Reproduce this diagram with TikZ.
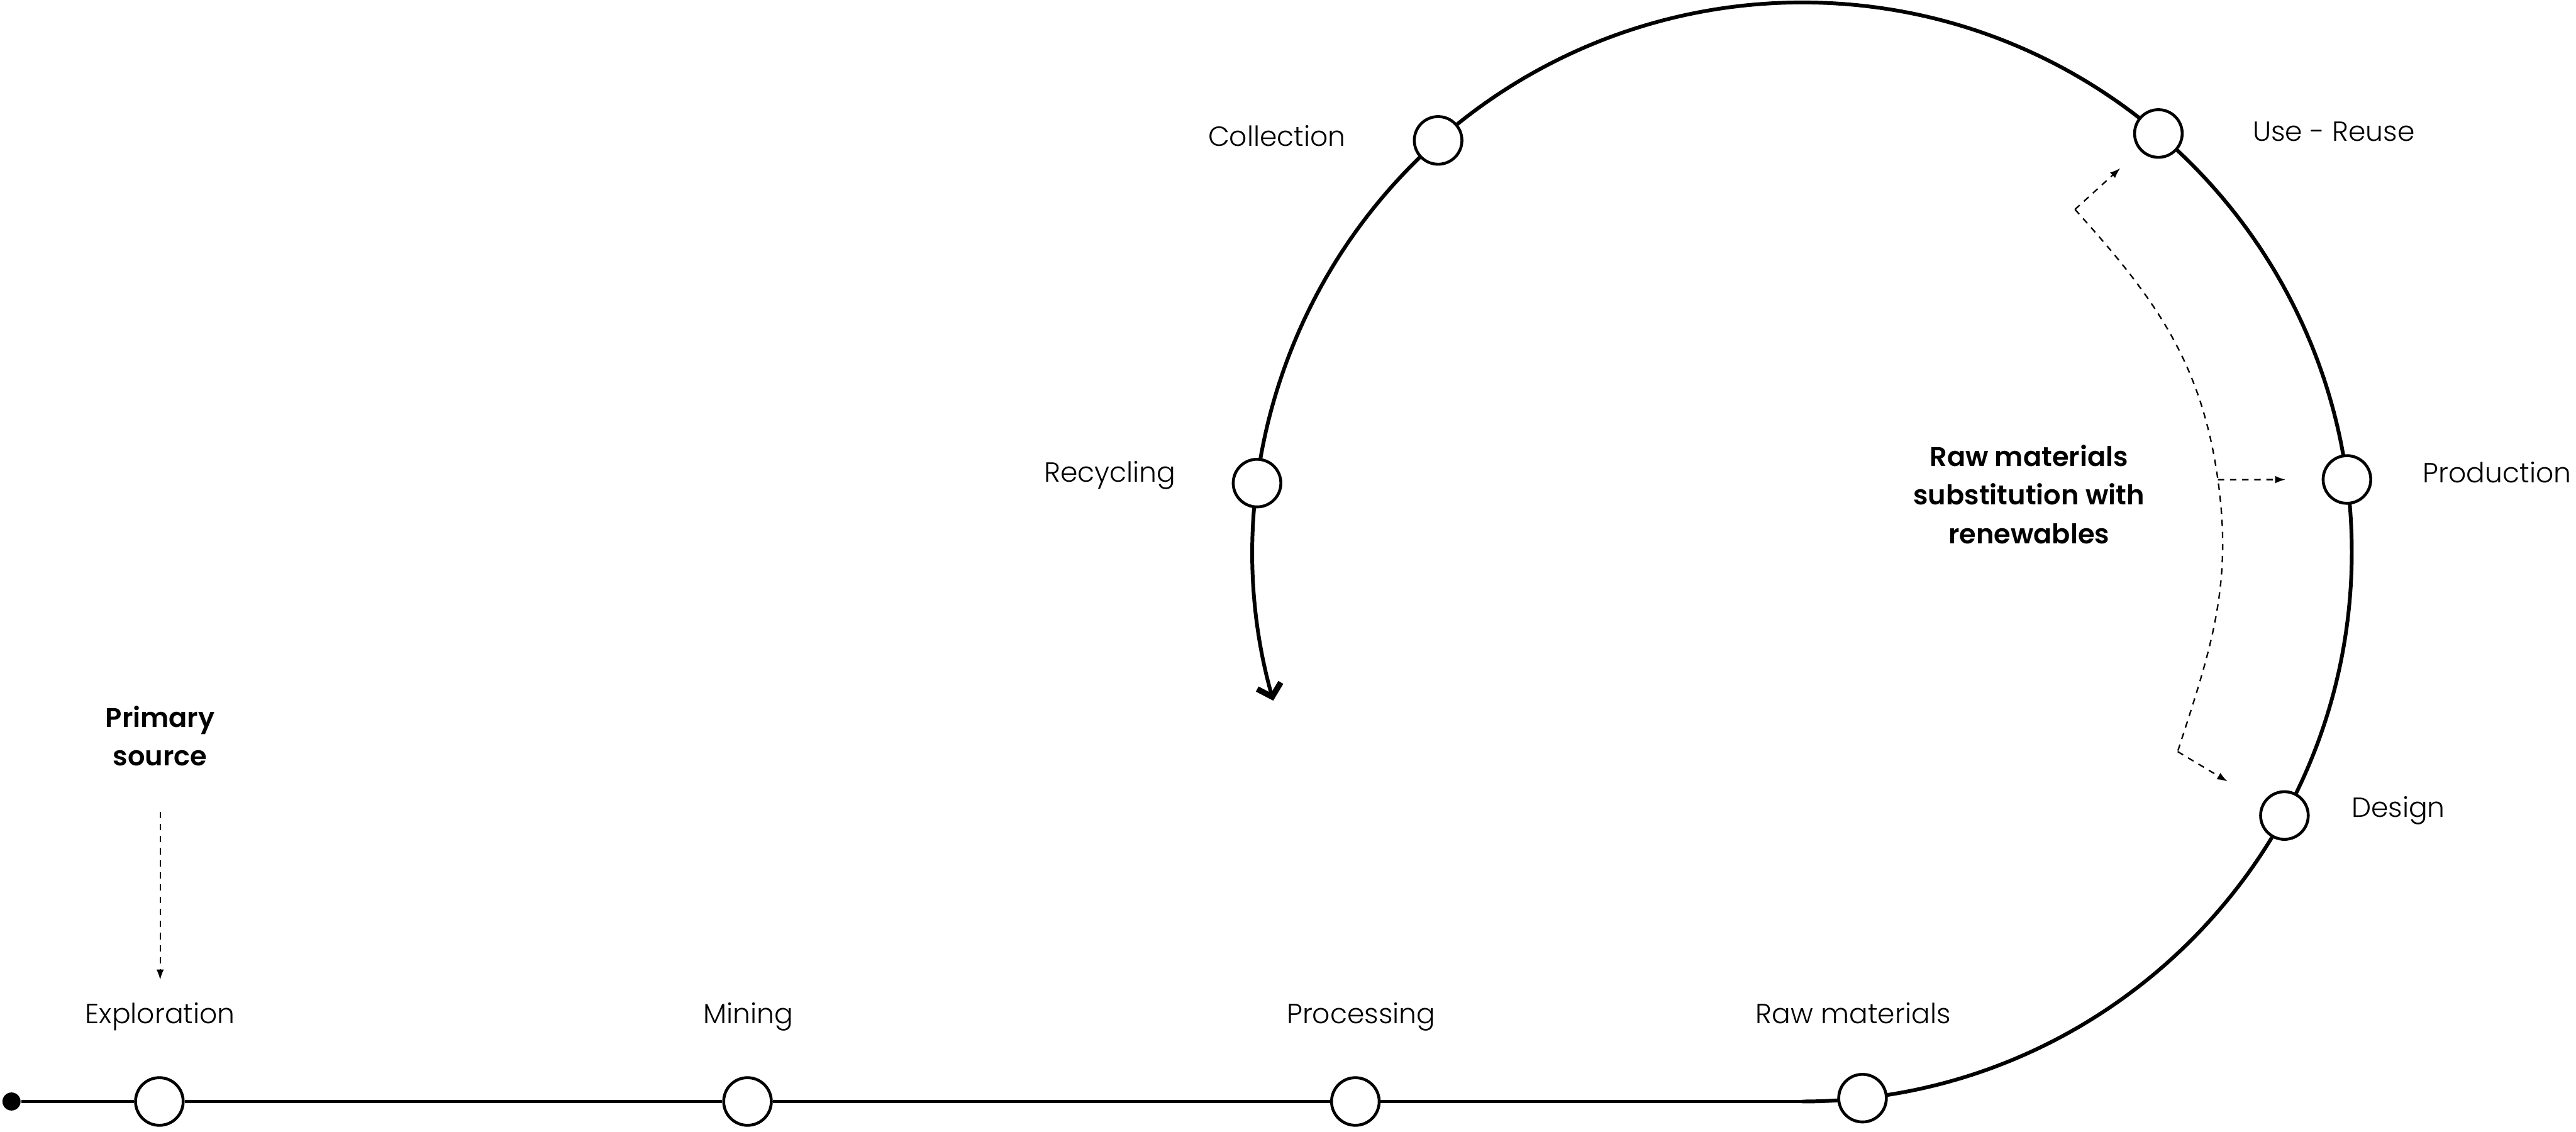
\documentclass[tikz,border=0pt]{standalone}
\usepackage{fontspec}
\setmainfont{Poppins}[UprightFont=* Light, BoldFont=* SemiBold]
\usetikzlibrary{arrows.meta}

\begin{document}
\begin{tikzpicture}[
  stage/.style={circle, draw, line width=1pt, fill=white, minimum size=5.8mm, inner sep=0pt},
  lbl/.style={inner sep=0pt, font=\fontsize{9.6}{12}\selectfont},
  note/.style={inner sep=0pt, align=center, font=\fontsize{9.4}{13.3}\selectfont\bfseries},
  flow/.style={line width=1.3pt},
  hint/.style={line width=0.5pt, dash pattern=on 2.2pt off 2pt, -{Latex[length=3.6pt,width=2.6pt]}}
]
  \useasboundingbox (0,0) rectangle (31.36,13.78);
  \coordinate (ctr) at (21.94,7.06);
  \coordinate (bot) at (21.94,0.37);

  % the loop back
  \draw[flow, -{Straight Barb[length=4pt,width=8.5pt,line width=2pt]}] (bot) arc[start angle=-90, end angle=195.7, radius=6.69];

  \node[circle, fill, minimum size=2.2mm, inner sep=0pt] (start) at (0.14,0.37) {};
  \node[stage] (expl) at (1.94,0.37) {};
  \node[stage] (mine) at (9.10,0.37) {};
  \node[stage] (proc) at (16.50,0.37) {};
  \node[stage] (raw) at ([shift={(-83.7:6.69)}]ctr) {};
  \node[stage] (des) at ([shift={(-28.66:6.69)}]ctr) {};
  \node[stage] (prod) at ([shift={(7.58:6.69)}]ctr) {};
  \node[stage] (use) at ([shift={(49.6:6.69)}]ctr) {};
  \node[stage] (coll) at ([shift={(131.5:6.69)}]ctr) {};
  \node[stage] (recy) at ([shift={(172.8:6.69)}]ctr) {};

  \draw[flow] (start) -- (expl) -- (mine) -- (proc) -- (bot);

  \node[lbl, anchor=base] (explL) at (1.95,1.32) {Exploration};
  \node[lbl, anchor=base] (mineL) at (9.11,1.32) {Mining};
  \node[lbl, anchor=base] (procL) at (16.57,1.32) {Processing};
  \node[lbl, anchor=base] (rawL) at (22.56,1.32) {Raw materials};
  \node[lbl, anchor=base west] (desL) at (28.62,3.83) {Design};
  \node[lbl, anchor=base west] (prodL) at (29.49,7.90) {Production};
  \node[lbl, anchor=base west] (useL) at (27.42,12.06) {Use - Reuse};
  \node[lbl, anchor=base east] (collL) at (16.39,12.00) {Collection};
  \node[lbl, anchor=base east] (recyL) at (14.32,7.91) {Recycling};

  \node[note] (primary) at (1.95,4.82) {Primary\\source};
  \node[note] (subst) at (24.70,7.76) {Raw materials\\substitution with\\renewables};

  % dashed hints
  \coordinate (c1) at (25.26,11.23);
  \coordinate (fork) at (27.0,7.94);
  \coordinate (c2) at (26.51,4.63);
  \draw[hint, -] (c1) to[out=-48, in=98] (fork) to[out=-82, in=72] (c2);
  \draw[hint, shorten >=3.2mm] (c1) -- (use);
  \draw[hint, shorten >=4.4mm] (fork) -- (prod);
  \draw[hint, shorten >=5mm] (c2) -- (des);
  \draw[hint, shorten <=5.5mm, shorten >=2.7mm] (primary) -- (explL);
\end{tikzpicture}
\end{document}
